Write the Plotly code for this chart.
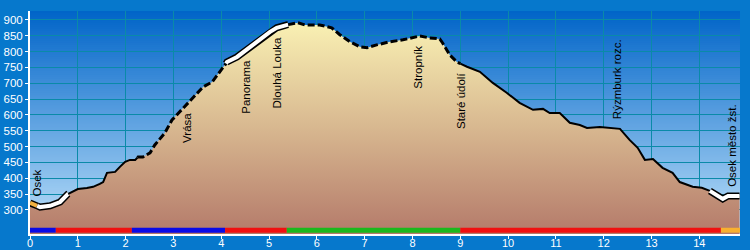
import numpy as np
import plotly.graph_objects as go

# ---- data (distance in km, elevation in m) ----
km = [0.00, 0.10, 0.21, 0.42, 0.63, 0.79, 1.00, 1.19, 1.32, 1.46, 1.53, 1.61, 1.78, 1.88,
      1.99, 2.09, 2.20, 2.26, 2.36, 2.51, 2.61, 2.82, 2.97, 3.20, 3.41, 3.62, 3.81, 4.04,
      4.12, 4.33, 4.60, 4.87, 5.02, 5.16, 5.37, 5.60, 5.75, 6.06, 6.31, 6.48, 6.69, 6.90,
      7.05, 7.25, 7.53, 7.80, 8.15, 8.36, 8.57, 8.63, 8.78, 8.93, 9.14, 9.41, 9.68, 9.97,
      10.20, 10.24, 10.52, 10.73, 10.87, 11.08, 11.29, 11.50, 11.65, 11.92, 12.34, 12.54,
      12.71, 12.86, 13.03, 13.23, 13.44, 13.59, 13.86, 14.05, 14.22, 14.39, 14.49, 14.60,
      14.70, 14.84]
elev = [322, 316, 309, 313, 325, 350, 366, 369, 373, 382, 388, 417, 420, 436,
        452, 458, 458, 467, 467, 480, 505, 543, 584, 622, 654, 688, 704, 748,
        767, 783, 815, 846, 862, 875, 884, 891, 884, 884, 875, 853, 831, 815,
        812, 821, 831, 837, 849, 843, 840, 827, 789, 767, 752, 736, 701, 670,
        641, 638, 616, 619, 606, 606, 575, 568, 559, 562, 556, 521,
        496, 458, 461, 433, 417, 388, 373, 370, 360, 344, 335, 344,
        344, 344]

label_text = ["Osek", "Vrása", "Panorama", "Dlouhá Louka", "Stropník", "Staré údolí",
              "Rýzmburk rozc.", "Osek město žst."]
label_km = [0.15, 3.28, 4.50, 5.16, 8.11, 9.03, 12.27, 14.68]
label_side = ["above", "below", "below", "below", "below", "below", "above", "above"]

bar_start = [0.00, 0.54, 2.13, 4.08, 5.37, 9.00, 14.45]
bar_end = [0.54, 2.13, 4.08, 5.37, 9.00, 14.45, 14.85]
bar_color = ["#0a0ae6", "#f01010", "#0a0ae6", "#f01010", "#1cb81c", "#f01010", "#f8b030"]

style_break = [0.00, 0.15, 0.80, 2.25, 4.10, 5.40, 9.00, 14.22, 14.84]
style_kind = ["orange", "white", "solid", "dash", "white", "dash", "solid", "white"]

x_ticks = list(range(0, 15))
y_ticks = list(range(300, 901, 50))
X_RANGE = [0, 14.85]
Y_RANGE = [224, 928]

FONT = "Liberation Sans, Arial, sans-serif"
OUTER = "#0678cc"

kmA = np.array(km, dtype=float)
eA = np.array(elev, dtype=float)

fig = go.Figure()

# filled terrain with vertical gradient
fig.add_trace(go.Scatter(
    x=km, y=elev, mode="lines", line=dict(width=0, color="rgba(0,0,0,0)"),
    fill="tozeroy",
    fillgradient=dict(type="vertical", start=Y_RANGE[0], stop=900,
                      colorscale=[[0, "#b47a6a"], [0.5, "#d8b890"], [1, "#faf2b4"]]),
    hoverinfo="skip", showlegend=False))

# profile line in styled segments
for a, b, kind in zip(style_break[:-1], style_break[1:], style_kind):
    inside = (kmA > a) & (kmA < b)
    xs = np.concatenate([[a], kmA[inside], [b]])
    ys = np.interp(xs, kmA, eA)
    if kind in ("white", "orange"):
        fig.add_trace(go.Scatter(x=xs, y=ys, mode="lines",
                                 line=dict(color="black", width=7),
                                 hoverinfo="skip", showlegend=False))
        fig.add_trace(go.Scatter(x=xs, y=ys, mode="lines",
                                 line=dict(color="white" if kind == "white" else "#f0b040",
                                           width=4),
                                 hoverinfo="skip", showlegend=False))
    elif kind == "dash":
        fig.add_trace(go.Scatter(x=xs, y=ys, mode="lines",
                                 line=dict(color="black", width=3, dash="7px,3px"),
                                 hoverinfo="skip", showlegend=False))
    else:
        fig.add_trace(go.Scatter(x=xs, y=ys, mode="lines",
                                 line=dict(color="black", width=2),
                                 hoverinfo="skip", showlegend=False))

shapes = []
# background gradient strips (below gridlines)
n = 112
top_c = np.array([0, 100, 200])
bot_c = np.array([190, 225, 250])
for i in range(n):
    t = (i + 0.5) / n
    c = bot_c + (top_c - bot_c) * t
    shapes.append(dict(type="rect", xref="paper", yref="paper",
                       x0=0, x1=1, y0=i / n, y1=min(1, (i + 1) / n + 0.004),
                       fillcolor="rgb(%d,%d,%d)" % tuple(np.round(c)),
                       line=dict(width=0), layer="below"))

# coloured trail-marking bar
for s, e, c in zip(bar_start, bar_end, bar_color):
    shapes.append(dict(type="rect", xref="x", yref="paper", x0=s, x1=e,
                       y0=0.006, y1=0.028, fillcolor=c, line=dict(width=0),
                       layer="above"))

annotations = []
for t, k, side in zip(label_text, label_km, label_side):
    yv = float(np.interp(k, kmA, eA))
    annotations.append(dict(
        x=k, y=yv, text=t, textangle=-90, showarrow=False,
        xanchor="center", yanchor="bottom" if side == "above" else "top",
        yshift=7 if side == "above" else -7,
        font=dict(family=FONT, size=11.5, color="black")))

fig.update_layout(
    width=750, height=250,
    margin=dict(l=30, r=10, t=11, b=16),
    paper_bgcolor=OUTER, plot_bgcolor="rgba(0,0,0,0)",
    shapes=shapes, annotations=annotations,
    showlegend=False,
    font=dict(family=FONT, size=11, color="white"),
)
fig.update_xaxes(range=X_RANGE, tickvals=x_ticks, ticktext=[str(v) for v in x_ticks],
                 showgrid=True, gridcolor="#0a8aa8", gridwidth=1,
                 showline=True, linecolor="white", linewidth=2,
                 ticks="outside", ticklen=3, tickcolor="white", tickwidth=1,
                 ticklabelstandoff=-5,
                 tickfont=dict(family=FONT, size=11, color="white"),
                 zeroline=False, fixedrange=True, automargin=False)
fig.update_yaxes(range=Y_RANGE, tickvals=y_ticks, ticktext=[str(v) for v in y_ticks],
                 showgrid=True, gridcolor="#0a8aa8", gridwidth=1,
                 showline=True, linecolor="white", linewidth=2,
                 ticks="outside", ticklen=3, tickcolor="white", tickwidth=1,
                 tickfont=dict(family=FONT, size=11.5, color="white"),
                 zeroline=False, fixedrange=True, automargin=False)

fig.write_html("out.html")
